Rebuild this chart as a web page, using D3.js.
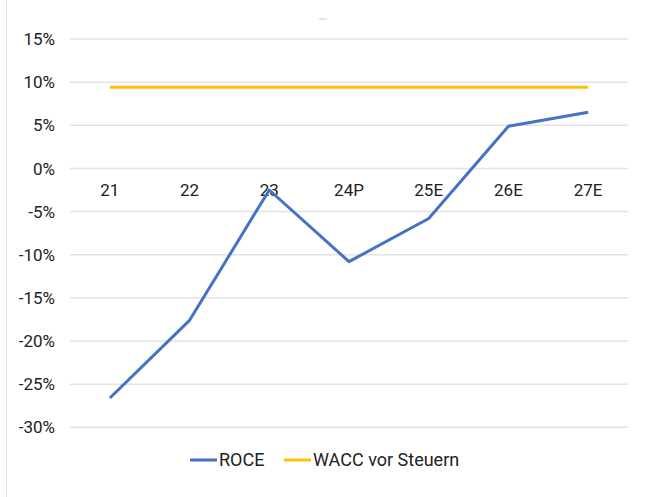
<!DOCTYPE html>
<meta charset="utf-8">
<html>
<head>
  <style>
    body { margin: 0; background: white; }
    .lbl { font: 17px Roboto, sans-serif; fill: #222; }
    .leg { font: 18px Roboto, sans-serif; fill: #222; }
  </style>
</head>
<body>
<svg width="652" height="497"></svg>

<script src="https://d3js.org/d3.v7.min.js"></script>
<script>

// Data
const categories = ["21", "22", "23", "24P", "25E", "26E", "27E"];
const roce = [-26.6, -17.6, -2.5, -10.8, -5.8, 4.9, 6.5];
const wacc = [9.4, 9.4, 9.4, 9.4, 9.4, 9.4, 9.4];
const yTicks = [15, 10, 5, 0, -5, -10, -15, -20, -25, -30];

const svg = d3.select("svg");

// left border of the chart frame
svg.append("line")
  .attr("x1", 6.5).attr("x2", 6.5)
  .attr("y1", 0).attr("y2", 497)
  .attr("stroke", "#e2e2e2").attr("stroke-width", 1);

// tiny placeholder title mark
svg.append("line")
  .attr("x1", 319).attr("x2", 327)
  .attr("y1", 19).attr("y2", 19)
  .attr("stroke", "#c8c8c8").attr("stroke-width", 1);

const x = d3.scaleBand()
  .domain(categories)
  .range([70, 628]);

const y = d3.scaleLinear()
  .domain([-30, 15])
  .range([427.3, 39]);

// gridlines
svg.append("g")
  .selectAll("line")
  .data(yTicks)
  .join("line")
  .attr("x1", 70).attr("x2", 628)
  .attr("y1", d => y(d)).attr("y2", d => y(d))
  .attr("stroke", "#e3e3e3")
  .attr("stroke-width", 1.5);

// y labels
svg.append("g")
  .selectAll("text")
  .data(yTicks)
  .join("text")
  .attr("class", "lbl")
  .attr("x", 55)
  .attr("y", d => y(d))
  .attr("dy", "0.36em")
  .attr("text-anchor", "end")
  .text(d => d + "%");

// category labels just below zero line
svg.append("g")
  .selectAll("text")
  .data(categories)
  .join("text")
  .attr("class", "lbl")
  .attr("x", d => x(d) + x.bandwidth() / 2)
  .attr("y", y(0) + 28)
  .attr("text-anchor", "middle")
  .text(d => d);

const line = d3.line()
  .x((d, i) => x(categories[i]) + x.bandwidth() / 2)
  .y(d => y(d));

svg.append("path")
  .datum(wacc)
  .attr("fill", "none")
  .attr("stroke", "#ffc000")
  .attr("stroke-width", 3)
  .attr("d", line);

svg.append("path")
  .datum(roce)
  .attr("fill", "none")
  .attr("stroke", "#4472c4")
  .attr("stroke-width", 3)
  .attr("stroke-linejoin", "round")
  .attr("d", line);

// legend
const legend = [
  { name: "ROCE", color: "#4472c4", x: 190 },
  { name: "WACC vor Steuern", color: "#ffc000", x: 284 }
];
const lg = svg.append("g")
  .selectAll("g")
  .data(legend)
  .join("g")
  .attr("transform", d => `translate(${d.x},460)`);
lg.append("line")
  .attr("x1", 0).attr("x2", 27)
  .attr("stroke", d => d.color)
  .attr("stroke-width", 3);
lg.append("text")
  .attr("class", "leg")
  .attr("x", 29)
  .attr("dy", "0.36em")
  .text(d => d.name);

</script>
</body>
</html>
